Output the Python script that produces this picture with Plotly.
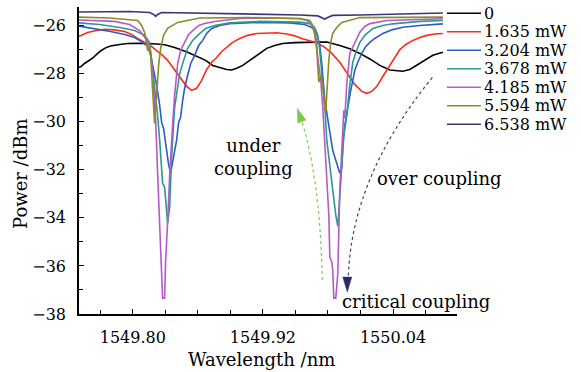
import plotly.graph_objects as go

names = ["0", "1.635 mW", "3.204 mW", "3.678 mW", "4.185 mW", "5.594 mW", "6.538 mW"]
colors = ["#000000", "#ff2a1a", "#2a5cc8", "#2a9a8c", "#b45ac8", "#8c8c28", "#383878"]

x_0 = [1549.750, 1549.752, 1549.7555, 1549.7592, 1549.7629, 1549.7666, 1549.7703, 1549.7749, 1549.7795,
       1549.7878, 1549.7952, 1549.8063, 1549.8137, 1549.8220, 1549.8294, 1549.8386, 1549.8506, 1549.8617,
       1549.8672, 1549.8737, 1549.8801, 1549.8866, 1549.8912, 1549.8958, 1549.9014, 1549.9078, 1549.9152,
       1549.9235, 1549.9309, 1549.9383, 1549.9494, 1549.9604, 1549.9697, 1549.9789, 1549.9909, 1550.0001,
       1550.0094, 1550.0186, 1550.0278, 1550.0371, 1550.0490, 1550.0555, 1550.0620, 1550.0694, 1550.0767,
       1550.0860]
y_0 = [-27.74, -27.72, -27.58, -27.47, -27.36, -27.20, -27.06, -26.93, -26.85, -26.79, -26.75, -26.74,
       -26.74, -26.77, -26.80, -26.91, -27.11, -27.33, -27.45, -27.66, -27.76, -27.83, -27.85, -27.78,
       -27.66, -27.45, -27.20, -26.95, -26.83, -26.75, -26.71, -26.69, -26.69, -26.69, -26.83, -26.97,
       -27.16, -27.39, -27.66, -27.85, -27.90, -27.83, -27.66, -27.45, -27.24, -27.11]

x_1 = [1549.750, 1549.7583, 1549.7666, 1549.7740, 1549.7832, 1549.7925, 1549.7989, 1549.8044, 1549.8109,
       1549.8155, 1549.8220, 1549.8275, 1549.8321, 1549.8368, 1549.8414, 1549.8460, 1549.8497, 1549.8543,
       1549.8589, 1549.8635, 1549.8681, 1549.8728, 1549.8774, 1549.8820, 1549.8866, 1549.8921, 1549.8986,
       1549.9060, 1549.9143, 1549.9235, 1549.9328, 1549.9420, 1549.9494, 1549.9558, 1549.9632, 1549.9697,
       1549.9771, 1549.9835, 1549.9909, 1549.9974, 1550.0047, 1550.0112, 1550.0158, 1550.0204, 1550.0251,
       1550.0306, 1550.0371, 1550.0417, 1550.0463, 1550.0518, 1550.0583, 1550.0647, 1550.0712, 1550.0786,
       1550.0860]
y_1 = [-26.46, -26.29, -26.21, -26.16, -26.18, -26.25, -26.37, -26.54, -26.70, -26.81, -27.04, -27.24,
       -27.45, -27.74, -28.07, -28.32, -28.53, -28.70, -28.61, -28.28, -27.83, -27.53, -27.33, -27.08,
       -26.91, -26.70, -26.54, -26.41, -26.33, -26.31, -26.30, -26.35, -26.43, -26.54, -26.64, -26.72,
       -26.91, -27.16, -27.53, -27.95, -28.45, -28.74, -28.82, -28.74, -28.53, -28.12, -27.66, -27.33,
       -27.00, -26.79, -26.62, -26.50, -26.41, -26.35, -26.33]

x_2 = [1549.750, 1549.7648, 1549.7795, 1549.7925, 1549.8017, 1549.8091, 1549.8137, 1549.8165, 1549.8183,
       1549.8220, 1549.8248, 1549.8266, 1549.8284, 1549.8312, 1549.8331, 1549.8349, 1549.8368, 1549.8386,
       1549.8404, 1549.8423, 1549.8441, 1549.8460, 1549.8478, 1549.8506, 1549.8534, 1549.8571, 1549.8608,
       1549.8645, 1549.8681, 1549.8728, 1549.8801, 1549.8894, 1549.9171, 1549.9448, 1549.9586, 1549.9651,
       1549.9697, 1549.9724, 1549.9743, 1549.9771, 1549.9798, 1549.9817, 1549.9844, 1549.9872, 1549.9891,
       1549.9909, 1549.9927, 1549.9937, 1549.9955, 1549.9974, 1549.9992, 1550.0010, 1550.0029, 1550.0047,
       1550.0075, 1550.0112, 1550.0149, 1550.0186, 1550.0232, 1550.0306, 1550.0398, 1550.0490, 1550.0647,
       1550.0860]
y_2 = [-26.02, -26.12, -26.25, -26.37, -26.50, -26.70, -26.87, -27.24, -27.66, -28.49, -29.32, -30.03,
       -30.28, -31.19, -31.81, -32.14, -31.60, -31.19, -30.77, -30.03, -29.82, -29.11, -28.61, -28.07,
       -27.58, -27.24, -26.83, -26.62, -26.33, -26.12, -26.00, -25.92, -25.87, -25.89, -25.96, -26.08,
       -26.33, -26.83, -27.58, -29.11, -29.86, -30.36, -31.19, -31.60, -31.85, -32.14, -31.90, -30.98,
       -30.15, -29.61, -29.11, -28.70, -28.28, -27.87, -27.53, -27.16, -26.87, -26.70, -26.54, -26.33,
       -26.17, -26.07, -26.00, -25.93]

x_3 = [1549.750, 1549.7694, 1549.7878, 1549.8017, 1549.8109, 1549.8155, 1549.8174, 1549.8201, 1549.8229,
       1549.8248, 1549.8275, 1549.8294, 1549.8312, 1549.8321, 1549.8340, 1549.8358, 1549.8386, 1549.8414,
       1549.8432, 1549.8469, 1549.8506, 1549.8552, 1549.8598, 1549.8672, 1549.8755, 1549.8894, 1549.9171,
       1549.9540, 1549.9632, 1549.9678, 1549.9706, 1549.9724, 1549.9743, 1549.9771, 1549.9789, 1549.9817,
       1549.9835, 1549.9854, 1549.9872, 1549.9891, 1549.9909, 1549.9927, 1549.9946, 1549.9974, 1550.0001,
       1550.0029, 1550.0057, 1550.0094, 1550.0140, 1550.0214, 1550.0306, 1550.0398, 1550.0647, 1550.0860]
y_3 = [-25.89, -25.96, -26.08, -26.21, -26.41, -26.70, -27.45, -28.49, -29.74, -30.77, -32.56, -32.73,
       -33.81, -34.22, -33.56, -31.48, -29.40, -28.61, -28.01, -27.45, -26.95, -26.62, -26.41, -26.12,
       -26.00, -25.89, -25.83, -25.86, -25.92, -26.08, -26.41, -27.04, -28.01, -29.32, -30.77, -31.81,
       -32.56, -33.27, -33.89, -34.35, -33.06, -31.81, -30.57, -29.74, -28.49, -27.53, -27.12, -26.70,
       -26.41, -26.12, -26.00, -25.93, -25.83, -25.79]

x_4 = [1549.750, 1549.7694, 1549.7832, 1549.7971, 1549.8063, 1549.8118, 1549.8155, 1549.8183, 1549.8211,
       1549.8229, 1549.8248, 1549.8266, 1549.8275, 1549.8294, 1549.8303, 1549.8321, 1549.8340, 1549.8368,
       1549.8386, 1549.8414, 1549.8441, 1549.8478, 1549.8515, 1549.8552, 1549.8608, 1549.8663, 1549.8755,
       1549.8986, 1549.9263, 1549.9540, 1549.9604, 1549.9651, 1549.9688, 1549.9706, 1549.9734, 1549.9752,
       1549.9771, 1549.9789, 1549.9808, 1549.9817, 1549.9835, 1549.9844, 1549.9854, 1549.9872, 1549.9891,
       1549.9909, 1549.9927, 1549.9937, 1549.9946, 1549.9955, 1549.9974, 1550.0001, 1550.0029, 1550.0066,
       1550.0094, 1550.0140, 1550.0186, 1550.0343, 1550.0555, 1550.0860]
y_4 = [-25.77, -25.79, -25.83, -25.96, -26.21, -26.54, -26.83, -27.87, -29.94, -32.14, -34.10, -36.30,
       -37.34, -37.34, -35.76, -34.22, -32.23, -30.07, -28.90, -27.58, -27.04, -26.70, -26.37, -26.21,
       -26.00, -25.92, -25.83, -25.71, -25.69, -25.72, -25.79, -25.96, -26.41, -27.33, -28.28, -29.40,
       -30.77, -32.14, -33.89, -35.63, -35.84, -36.17, -37.34, -37.34, -36.30, -32.85, -30.90, -29.86,
       -29.53, -29.86, -28.41, -27.16, -26.91, -26.54, -26.28, -26.04, -25.92, -25.79, -25.75, -25.72]

x_5 = [1549.750, 1549.7786, 1549.8045, 1549.8082, 1549.8109, 1549.8128, 1549.8137, 1549.8155, 1549.8165,
       1549.8183, 1549.8201, 1549.8220, 1549.8238, 1549.8257, 1549.8284, 1549.8321, 1549.8414, 1549.8617,
       1549.9078, 1549.9540, 1549.9632, 1549.9660, 1549.9678, 1549.9697, 1549.9706, 1549.9715, 1549.9734,
       1549.9743, 1549.9761, 1549.9771, 1549.9780, 1549.9789, 1549.9808, 1549.9826, 1549.9844, 1549.9881,
       1549.9927, 1550.0094, 1550.0463, 1550.0860]
y_5 = [-25.65, -25.69, -25.79, -26.00, -26.29, -26.70, -27.04, -26.83, -27.24, -28.70, -30.07, -28.90,
       -27.66, -26.95, -26.41, -26.12, -25.87, -25.69, -25.67, -25.71, -25.79, -26.00, -26.41, -27.04,
       -28.07, -28.36, -28.07, -28.28, -28.90, -29.53, -29.53, -28.70, -27.45, -26.70, -26.33, -26.08,
       -25.87, -25.67, -25.65, -25.65]

x_6 = [1549.750, 1549.7694, 1549.7971, 1549.8155, 1549.8192, 1549.8211, 1549.8229, 1549.8266, 1549.8617,
       1549.9078, 1549.9540, 1549.9706, 1549.9743, 1549.9771, 1549.9798, 1549.9844, 1550.0094, 1550.0463,
       1550.0860]
y_6 = [-25.44, -25.42, -25.42, -25.46, -25.54, -25.62, -25.54, -25.46, -25.48, -25.52, -25.56, -25.60,
       -25.67, -25.73, -25.67, -25.58, -25.56, -25.52, -25.48]

xs = [x_0, x_1, x_2, x_3, x_4, x_5, x_6]
ys = [y_0, y_1, y_2, y_3, y_4, y_5, y_6]

FONT = "DejaVu Serif"

fig = go.Figure()
for name, color, xv, yv in zip(names, colors, xs, ys):
    fig.add_trace(go.Scatter(x=xv, y=yv, mode="lines", name=name,
                             line=dict(color=color, width=1.6), showlegend=False))

W, H = 581, 372
ML, MR, MT, MB = 79, 124, 7, 58
PW, PH = W - ML - MR, H - MT - MB

def px(x):
    return (x - ML) / PW

def py(y):
    return (H - MB - y) / PH

shapes = []
annotations = []

# manual legend
for i, (name, color) in enumerate(zip(names, colors)):
    yy = py(13.3 + 18.5 * i)
    shapes.append(dict(type="line", xref="paper", yref="paper", x0=px(447), x1=px(481),
                       y0=yy, y1=yy, line=dict(color=color, width=1.6)))
    annotations.append(dict(xref="paper", yref="paper", x=px(482), y=yy, text=name,
                            showarrow=False, xanchor="left", yanchor="middle",
                            font=dict(family=FONT, size=16, color="black")))

# dotted curved arrows
shapes.append(dict(type="path", xref="x", yref="y",
                   path="M 1549.9747,-36.59 Q 1549.9729,-32.23 1549.9536,-29.65",
                   line=dict(color="#78cc48", width=1.2, dash="dot")))
shapes.append(dict(type="path", xref="x", yref="y",
                   path="M 1550.0763,-28.16 Q 1550.0006,-32.35 1549.9987,-36.59",
                   line=dict(color="#40407a", width=1.2, dash="dot")))
# arrowheads
shapes.append(dict(type="path", xref="x", yref="y", xsizemode="pixel", ysizemode="pixel",
                   xanchor=1549.9517, yanchor=-29.445,
                   path="M 0,0 L 8.8,-11.7 L 0.4,-14.7 Z",
                   fillcolor="#78cc48", line=dict(color="#78cc48", width=0.5)))
shapes.append(dict(type="path", xref="x", yref="y", xsizemode="pixel", ysizemode="pixel",
                   xanchor=1549.9978, yanchor=-37.09,
                   path="M 0,0 L -4.5,15 L 4.5,15 Z",
                   fillcolor="#2a2a6a", line=dict(color="#2a2a6a", width=0.5)))

txt = dict(family=FONT, size=18, color="black")
annotations += [
    dict(x=1549.911, y=-31.46, xref="x", yref="y", text="under<br>coupling", showarrow=False,
         xanchor="center", yanchor="middle", font=txt),
    dict(x=1550.0232, y=-32.35, xref="x", yref="y", text="over coupling", showarrow=False,
         xanchor="left", yanchor="middle", font=txt),
    dict(x=1549.9913, y=-37.5, xref="x", yref="y", text="critical coupling", showarrow=False,
         xanchor="left", yanchor="middle", font=txt),
    dict(xref="paper", yref="paper", x=px(261.5), y=py(359), text="Wavelength /nm",
         showarrow=False, xanchor="center", yanchor="middle", font=txt),
    dict(xref="paper", yref="paper", x=px(20), y=py(174), text="Power /dBm", textangle=-90,
         showarrow=False, xanchor="center", yanchor="middle", font=txt),
]

fig.update_layout(
    width=W, height=H,
    margin=dict(l=ML, r=MR, t=MT, b=MB, pad=0),
    paper_bgcolor="white", plot_bgcolor="white",
    font=dict(family=FONT, size=16, color="black"),
    shapes=shapes, annotations=annotations,
    showlegend=False,
)
fig.update_xaxes(range=[1549.7504, 1550.099], tick0=1549.80, dtick=0.12, tickformat=".2f",
                 ticks="inside", ticklen=5, tickwidth=1, tickcolor="black",
                 minor=dict(dtick=0.03, ticks="inside", ticklen=4, tickcolor="black"),
                 showline=True, linecolor="black", linewidth=1.5, showgrid=False, zeroline=False,
                 ticklabelstandoff=8)
fig.update_yaxes(range=[-38, -25.23], tick0=-38, dtick=2,
                 ticks="inside", ticklen=5, tickwidth=1, tickcolor="black",
                 minor=dict(dtick=1, ticks="inside", ticklen=4, tickcolor="black"),
                 showline=True, linecolor="black", linewidth=1.5, showgrid=False, zeroline=False,
                 ticklabelstandoff=8)

fig.write_html("out.html")
